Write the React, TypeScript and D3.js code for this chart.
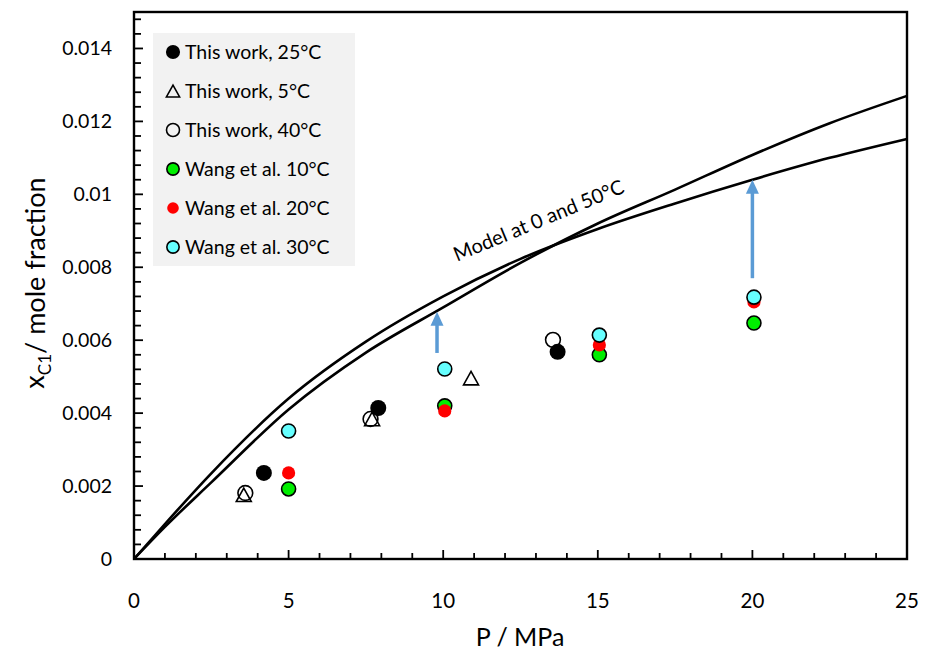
import React, { useEffect, useRef } from 'react';
import * as d3 from 'd3';

// x tick labels / y tick labels
const xTicks = [0, 5, 10, 15, 20, 25];
const yTicks = [0, 0.002, 0.004, 0.006, 0.008, 0.01, 0.012, 0.014];

// [P (MPa), x_C1]
const thisWork25 = [[4.2, 0.00236], [7.9, 0.00414], [13.7, 0.00568]];
const thisWork5 = [[3.55, 0.00176], [7.7, 0.00384], [10.9, 0.00496]];
const thisWork40 = [[3.6, 0.00181], [7.65, 0.00384], [13.55, 0.00601]];
const wang10 = [[5, 0.00192], [10.05, 0.0042], [15.05, 0.0056], [20.05, 0.00647]];
const wang20 = [[5, 0.00236], [10.05, 0.00406], [15.05, 0.00587], [20.05, 0.00705]];
const wang30 = [[5, 0.00351], [10.05, 0.00521], [15.05, 0.00614], [20.05, 0.00718]];

// model curves
const modelA = [[0, 0], [1, 0.00096], [2.5, 0.00235], [5, 0.0044], [7.5, 0.00596], [10, 0.0072],
  [12.5, 0.00823], [15, 0.00905], [17.5, 0.00975], [20, 0.0104], [22.5, 0.011], [25, 0.01152]];
const modelB = [[0, 0], [1, 0.00088], [2.5, 0.0021], [5, 0.0041], [7.5, 0.00566], [10, 0.0069],
  [12.5, 0.00812], [15, 0.0092], [17.5, 0.01013], [20, 0.01108], [22.5, 0.01195], [25, 0.0127]];

// blue arrows: [P, from, to]
const arrows = [[9.8, 0.00565, 0.00678], [20, 0.0077, 0.0104]];

const legendLabels = ['This work, 25°C', 'This work, 5°C', 'This work, 40°C',
  'Wang et al. 10°C', 'Wang et al. 20°C', 'Wang et al. 30°C'];

const FONT = 'Lato, "Open Sans", sans-serif';

const App = () => {
  const ref = useRef(null);

  useEffect(() => {
    const svg = d3.select(ref.current);
    svg.selectAll('*').remove();

    const x = d3.scaleLinear([0, 25], [134, 907]);
    const y = d3.scaleLinear([0, 0.015], [559, 12]);

    // symbols
    const drawCircle = (g, cx, cy, r, fill, stroke) => {
      g.append('circle')
        .attr('cx', cx).attr('cy', cy).attr('r', r)
        .attr('fill', fill)
        .attr('stroke', stroke || 'none')
        .attr('stroke-width', 1.6);
    };
    const drawTriangle = (g, cx, cy, s) => {
      const h = s * 0.9;
      g.append('path')
        .attr('d', `M${cx},${cy - h / 2}L${cx + s / 2},${cy + h / 2}L${cx - s / 2},${cy + h / 2}Z`)
        .attr('fill', 'none')
        .attr('stroke', '#000')
        .attr('stroke-width', 1.6);
    };
    const markers = [
      (g, cx, cy, k) => drawCircle(g, cx, cy, k * 8, '#000'),
      (g, cx, cy, k) => drawTriangle(g, cx, cy, k * 15),
      (g, cx, cy, k) => drawCircle(g, cx, cy, k * 7.4, 'none', '#000'),
      (g, cx, cy, k) => drawCircle(g, cx, cy, k * 7, '#00ee00', '#000'),
      (g, cx, cy, k) => drawCircle(g, cx, cy, k * 6.6, '#ff0000'),
      (g, cx, cy, k) => drawCircle(g, cx, cy, k * 7, '#66ffff', '#000'),
    ];

    // legend
    const legend = svg.append('g');
    legend.append('rect')
      .attr('x', 153).attr('y', 33).attr('width', 202).attr('height', 233)
      .attr('fill', '#f2f2f2');
    legendLabels.forEach((label, i) => {
      const ly = 52 + i * 39;
      markers[i](legend, 173, ly, 0.88);
      legend.append('text')
        .attr('x', 185).attr('y', ly)
        .attr('dy', '0.35em')
        .attr('font-family', FONT)
        .attr('font-size', 19.5)
        .attr('fill', '#000')
        .text(label);
    });

    // model curves
    const line = d3.line()
      .x(d => x(d[0]))
      .y(d => y(d[1]))
      .curve(d3.curveMonotoneX);
    [modelA, modelB].forEach(m => {
      svg.append('path')
        .datum(m)
        .attr('d', line)
        .attr('fill', 'none')
        .attr('stroke', '#000')
        .attr('stroke-width', 2.6);
    });

    // label on curves
    svg.append('text')
      .attr('transform', `translate(${x(10.45)},${y(0.00815)}) rotate(-22.5)`)
      .attr('font-family', FONT)
      .attr('font-size', 20)
      .attr('fill', '#000')
      .text('Model at 0 and 50°C');

    // arrows
    arrows.forEach(([p, from, to]) => {
      const ax = x(p);
      svg.append('line')
        .attr('x1', ax).attr('x2', ax)
        .attr('y1', y(from)).attr('y2', y(to) + 12)
        .attr('stroke', '#5b9bd5')
        .attr('stroke-width', 3.5);
      svg.append('path')
        .attr('d', `M${ax},${y(to)}L${ax + 6.5},${y(to) + 14}L${ax - 6.5},${y(to) + 14}Z`)
        .attr('fill', '#5b9bd5');
    });

    // data points (drawing order as in the original)
    const pts = svg.append('g');
    [[thisWork40, 2], [thisWork5, 1], [thisWork25, 0], [wang10, 3], [wang20, 4], [wang30, 5]]
      .forEach(([data, k]) => {
        data.forEach(d => markers[k](pts, x(d[0]), y(d[1]), 1));
      });

    // frame
    svg.append('rect')
      .attr('x', 134).attr('y', 12).attr('width', 907 - 134).attr('height', 559 - 12)
      .attr('fill', 'none')
      .attr('stroke', '#000')
      .attr('stroke-width', 2.4);

    // x ticks (inward)
    const xMinor = d3.range(0, 25.01, 1);
    svg.selectAll('.xt')
      .data(xMinor).enter()
      .append('line')
      .attr('x1', d => x(d)).attr('x2', d => x(d))
      .attr('y1', 559)
      .attr('y2', d => (d % 5 === 0 ? 550 : 553))
      .attr('stroke', '#000')
      .attr('stroke-width', 1.8);

    // y ticks (inward)
    const yMinor = d3.range(0, 0.01501, 0.0004);
    svg.selectAll('.yt')
      .data(yMinor).enter()
      .append('line')
      .attr('x1', 134)
      .attr('x2', (d, i) => (i % 5 === 0 ? 143 : 141))
      .attr('y1', d => y(d)).attr('y2', d => y(d))
      .attr('stroke', '#000')
      .attr('stroke-width', 1.8);

    // tick labels
    svg.selectAll('.xl')
      .data(xTicks).enter()
      .append('text')
      .attr('x', d => x(d)).attr('y', 601)
      .attr('dy', '0.35em')
      .attr('text-anchor', 'middle')
      .attr('font-family', FONT)
      .attr('font-size', 20.5)
      .text(d => d);
    svg.selectAll('.yl')
      .data(yTicks).enter()
      .append('text')
      .attr('x', 112).attr('y', d => y(d))
      .attr('dy', '0.35em')
      .attr('text-anchor', 'end')
      .attr('font-family', FONT)
      .attr('font-size', 19.5)
      .text(d => (d === 0 ? '0' : String(+d.toFixed(3))));

    // axis titles
    svg.append('text')
      .attr('x', 520).attr('y', 637)
      .attr('dy', '0.35em')
      .attr('text-anchor', 'middle')
      .attr('font-family', FONT)
      .attr('font-size', 25)
      .text('P / MPa');

    const yt = svg.append('text')
      .attr('transform', 'translate(35,283) rotate(-90)')
      .attr('dy', '0.35em')
      .attr('text-anchor', 'middle')
      .attr('font-family', FONT)
      .attr('font-size', 27);
    yt.append('tspan').text('x');
    yt.append('tspan').attr('font-size', 17).attr('dy', '0.4em').text('C1');
    yt.append('tspan').attr('dy', '-0.25em').text('/ mole fraction');
  }, []);

  return (
    <svg
      ref={ref}
      width={925}
      height={654}
      style={{ position: 'absolute', left: 0, top: 0, background: '#fff' }}
    />
  );
};

export default App;
